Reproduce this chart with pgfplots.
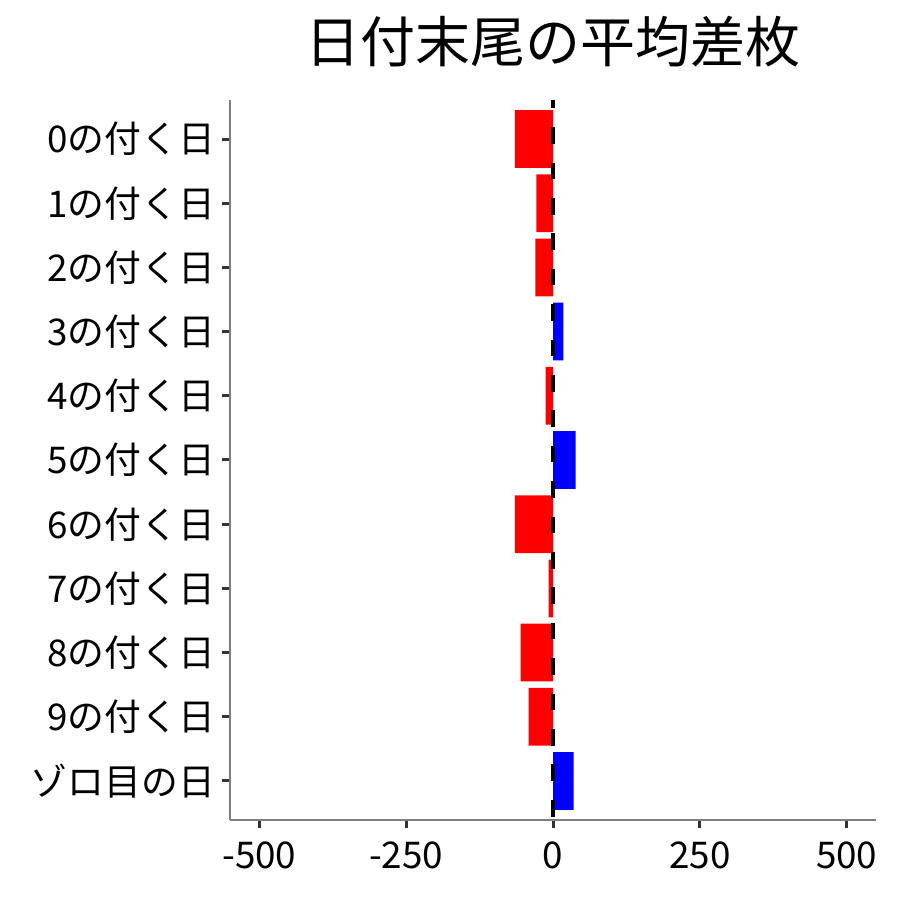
\documentclass[border=0pt]{standalone}
\usepackage{fontspec}
\setmainfont{Noto Sans CJK JP}
\usepackage{pgfplots}
\pgfplotsset{compat=1.18}
\definecolor{axisgray}{HTML}{7F7F7F}
\definecolor{tickgray}{HTML}{333333}
\begin{document}
\begin{tikzpicture}
\useasboundingbox (-115pt,-40.25pt) rectangle (335pt,409.75pt);
\begin{axis}[
    at={(0,0)}, anchor=south west,
    scale only axis,
    width=323pt, height=359.5pt,
    xmin=-550, xmax=550,
    ymin=-0.6, ymax=10.6,
    xtick={-500,-250,0,250,500},
    xticklabels={-500,-250,0,250,500},
    ytick={0,1,2,3,4,5,6,7,8,9,10},
    yticklabels={ゾロ目の日,9の付く日,8の付く日,7の付く日,6の付く日,5の付く日,4の付く日,3の付く日,2の付く日,1の付く日,0の付く日},
    axis lines*=left,
    axis line style={-, draw=axisgray, line width=1pt},
    tick style={draw=tickgray, line width=1.5pt},
    major tick length=4pt,
    tick align=outside,
    ticklabel style={font=\fontsize{18.4}{20}\selectfont, text=black},
    xticklabel style={yshift=-3.5pt},
    title={日付末尾の平均差枚},
    title style={font=\fontsize{27.5}{30}\selectfont, anchor=center, at={(0.5,1)}, yshift=23.5pt},
]
% 平均差枚 (red = negative, blue = positive)
\addplot[xbar, bar width=0.9, bar shift=0pt, fill=red, draw=none]
    coordinates {(-65,10) (-28.4,9) (-29.9,8) (-12.4,6) (-65,4) (-7.3,3) (-55.3,2) (-41.7,1)};
\addplot[xbar, bar width=0.9, bar shift=0pt, fill=blue, draw=none]
    coordinates {(17.5,7) (38.6,5) (35.2,0)};
% zero line
\addplot[black, line width=2pt, dash pattern=on 8.3pt off 9.4pt, dash phase=4.3pt]
    coordinates {(0,10.6) (0,-0.6)};
\end{axis}
\end{tikzpicture}
\end{document}
